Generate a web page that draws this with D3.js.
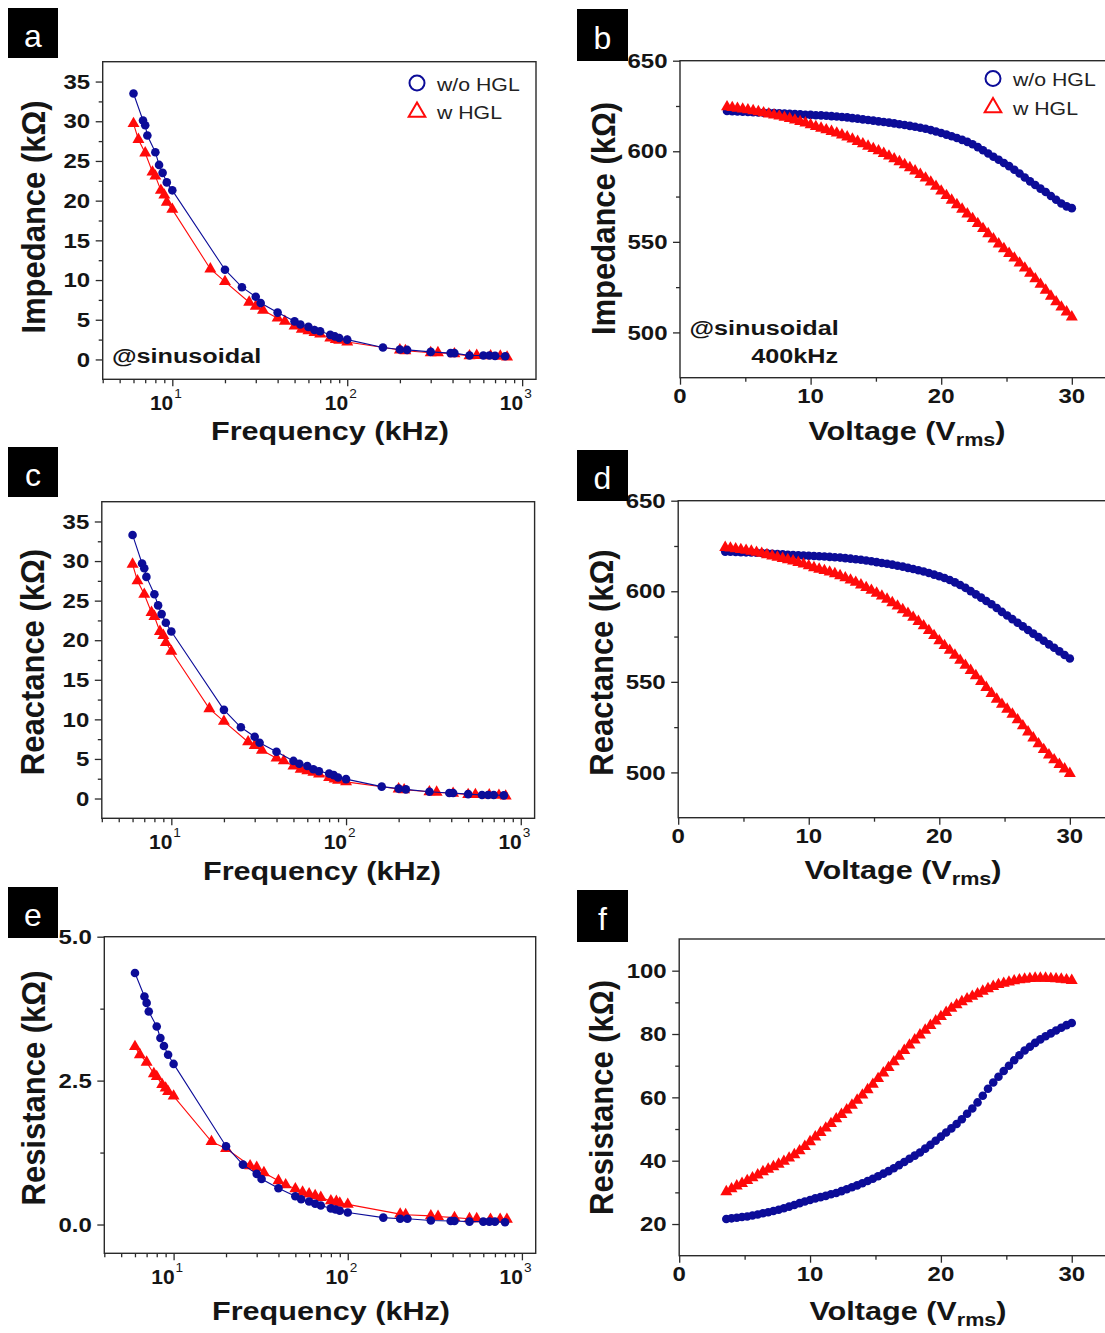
<!DOCTYPE html>
<html><head><meta charset="utf-8">
<script src="https://cdn.jsdelivr.net/npm/d3@7"></script>
<style>body{margin:0;background:#fff}svg{display:block}</style></head>
<body><svg id="c" width="1105" height="1333"></svg>
<script>
// ---------- data (frequency sweeps, panels a/c/e) ----------
const freqBlue = [6, 6.8, 7, 7.2, 8, 8.4, 8.8, 9.3, 10, 20, 25, 30, 32, 40, 50, 54, 60, 65, 70, 80, 85, 90, 100, 160, 200, 220, 300, 390, 410, 500, 600, 650, 700, 800];
const freqRed  = [6, 6.4, 7, 7.7, 8, 8.6, 9, 9.3, 10, 16.5, 20, 27.5, 30, 33, 40, 44, 50, 55, 60, 65, 70, 80, 86, 90, 100, 200, 215, 300, 330, 410, 500, 550, 660, 750, 820];
const impBlue  = [33.5, 30.1, 29.5, 28.2, 26.1, 24.5, 23.5, 22.3, 21.3, 11.3, 9.1, 7.9, 7.1, 5.9, 4.8, 4.4, 4.1, 3.7, 3.55, 3.1, 2.9, 2.7, 2.5, 1.5, 1.25, 1.2, 0.95, 0.8, 0.8, 0.5, 0.5, 0.5, 0.45, 0.4];
const impRed   = [29.7, 27.7, 26.0, 23.6, 23.1, 21.3, 20.7, 19.8, 18.9, 11.4, 9.8, 7.2, 6.7, 6.2, 5.2, 4.8, 4.2, 3.8, 3.6, 3.4, 3.2, 2.7, 2.5, 2.4, 2.2, 1.2, 1.1, 0.85, 0.85, 0.7, 0.45, 0.5, 0.45, 0.4, 0.3];
const reacBlue = [33.3, 29.7, 29.1, 28.0, 25.8, 24.4, 23.3, 22.2, 21.1, 11.2, 9.0, 7.8, 7.05, 5.9, 4.75, 4.4, 4.1, 3.7, 3.45, 3.15, 2.95, 2.65, 2.45, 1.5, 1.25, 1.15, 0.85, 0.7, 0.7, 0.55, 0.45, 0.45, 0.45, 0.4];
const reacRed  = [29.6, 27.5, 25.8, 23.5, 23.0, 21.1, 20.6, 19.7, 18.6, 11.35, 9.75, 7.15, 6.7, 6.1, 5.1, 4.75, 4.1, 3.7, 3.5, 3.3, 3.1, 2.65, 2.45, 2.3, 2.1, 1.2, 1.1, 0.85, 0.8, 0.65, 0.5, 0.5, 0.45, 0.4, 0.3];
const resBlue  = [4.37, 3.96, 3.85, 3.70, 3.44, 3.24, 3.10, 2.95, 2.79, 1.36, 1.04, 0.88, 0.79, 0.63, 0.49, 0.44, 0.40, 0.36, 0.33, 0.28, 0.26, 0.24, 0.21, 0.12, 0.10, 0.10, 0.07, 0.06, 0.06, 0.05, 0.05, 0.05, 0.05, 0.04];
const resRed   = [3.09, 2.95, 2.82, 2.62, 2.57, 2.43, 2.37, 2.31, 2.23, 1.44, 1.32, 1.02, 0.99, 0.90, 0.76, 0.69, 0.62, 0.56, 0.53, 0.50, 0.47, 0.41, 0.40, 0.37, 0.35, 0.18, 0.17, 0.15, 0.14, 0.12, 0.10, 0.10, 0.09, 0.09, 0.09];

// ---------- data (voltage sweeps @400 kHz, panels b/d/f) ----------
const voltage = [
  3.6,4.0,4.4,4.8,5.2,5.6,6.0,6.4,6.8,7.2,
  7.6,8.0,8.4,8.8,9.2,9.6,10.0,10.4,10.8,11.2,
  11.6,12.0,12.4,12.8,13.2,13.6,14.0,14.4,14.8,15.2,
  15.6,16.0,16.4,16.8,17.2,17.6,18.0,18.4,18.8,19.2,
  19.6,20.0,20.4,20.8,21.2,21.6,22.0,22.4,22.8,23.2,
  23.6,24.0,24.4,24.8,25.2,25.6,26.0,26.4,26.8,27.2,
  27.6,28.0,28.4,28.8,29.2,29.6,30.0];
const vImpBlue = [
  622.2,622.1,622.0,621.8,621.7,621.6,621.4,621.3,621.2,621.1,
  621.0,620.8,620.7,620.5,620.4,620.2,620.1,619.9,619.8,619.6,
  619.4,619.2,618.9,618.7,618.3,618.0,617.6,617.3,616.9,616.5,
  616.2,615.8,615.4,614.9,614.5,614.0,613.5,613.0,612.4,611.7,
  610.9,610.1,609.2,608.3,607.3,606.3,605.2,603.9,602.3,600.6,
  598.8,597.0,595.3,593.5,591.8,589.8,587.7,585.5,583.4,581.4,
  579.4,577.5,575.3,573.2,571.2,569.6,568.6];
const vImpRed = [
  624.5,624.1,623.7,623.3,622.9,622.4,621.8,621.2,620.6,620.0,
  619.4,618.7,618.0,617.2,616.4,615.6,614.6,613.6,612.7,611.8,
  610.9,610.0,609.0,607.9,606.7,605.4,604.1,602.8,601.5,600.2,
  598.8,597.3,595.8,594.2,592.6,590.9,589.1,587.2,585.2,583.0,
  580.6,578.0,575.5,573.0,570.5,568.0,565.4,562.8,560.1,557.3,
  554.5,551.6,548.8,546.2,543.6,541.0,538.3,535.5,532.6,529.6,
  526.5,523.3,520.0,516.9,514.0,511.3,508.5];
const vReacBlue = [
  621.9,621.8,621.7,621.6,621.5,621.4,621.3,621.1,620.9,620.7,
  620.5,620.4,620.2,620.0,619.9,619.7,619.6,619.5,619.3,619.2,
  619.0,618.8,618.6,618.3,618.0,617.7,617.4,617.0,616.6,616.1,
  615.6,615.2,614.7,614.1,613.6,612.9,612.3,611.6,610.9,610.1,
  609.2,608.3,607.3,606.2,604.9,603.5,601.9,600.1,598.3,596.5,
  594.6,592.8,590.8,588.6,586.6,584.6,582.6,580.6,578.6,576.6,
  574.7,572.7,570.7,568.8,566.8,564.8,562.9];
const vReacRed = [
  624.2,623.8,623.4,623.0,622.6,622.1,621.5,620.9,620.2,619.5,
  618.8,618.1,617.4,616.7,615.9,615.0,614.0,613.0,612.2,611.4,
  610.6,609.7,608.6,607.4,606.2,604.9,603.5,602.0,600.5,598.9,
  597.3,595.6,593.7,591.8,589.8,587.8,585.6,583.3,580.9,578.3,
  575.5,572.6,570.0,567.4,564.7,561.9,559.1,556.3,553.4,550.2,
  546.9,543.6,540.4,537.6,534.9,532.1,529.0,525.7,522.3,519.0,
  515.8,512.6,509.6,506.9,504.4,501.9,499.4];
const vResBlue = [
  21.6,21.8,22.0,22.2,22.4,22.7,23.0,23.4,23.7,24.1,
  24.5,25.0,25.5,26.0,26.6,27.1,27.6,28.1,28.5,28.9,
  29.4,29.8,30.4,31.0,31.6,32.2,32.9,33.6,34.3,35.1,
  35.9,36.7,37.6,38.6,39.6,40.6,41.6,42.6,43.8,45.0,
  46.3,47.6,48.9,50.2,51.6,53.1,54.8,56.5,58.4,60.5,
  62.7,64.7,66.5,68.3,70.0,71.7,73.3,74.8,76.0,77.2,
  78.3,79.3,80.2,81.1,82.0,82.8,83.5];
const vResRed = [
  30.2,31.1,32.0,32.8,33.7,34.6,35.5,36.5,37.3,38.1,
  38.9,39.8,40.8,41.9,43.1,44.5,46.0,47.5,48.9,50.3,
  51.7,53.2,54.6,56.0,57.5,59.1,60.7,62.4,64.1,65.9,
  67.7,69.4,71.2,73.0,74.8,76.5,78.1,79.7,81.2,82.7,
  84.1,85.5,86.8,88.1,89.2,90.2,91.1,91.9,92.7,93.5,
  94.3,95.0,95.6,96.0,96.4,96.8,97.1,97.3,97.5,97.6,
  97.6,97.6,97.5,97.4,97.3,97.1,96.9];

// ---------- tick values / labels ----------
const freqMajorTicks = [10, 100, 1000];
const freqMajorExp   = ["1", "2", "3"];
const freqMinorTicks = [4,5,6,7,8,9,20,30,40,50,60,70,80,90,200,300,400,500,600,700,800,900];
const kOhmTicks      = [0, 5, 10, 15, 20, 25, 30, 35];
const kOhmMinor      = [2.5, 7.5, 12.5, 17.5, 22.5, 27.5, 32.5];
const resTicks       = [0, 2.5, 5.0];
const resTickLabels  = ["0.0", "2.5", "5.0"];
const resMinor       = [1.25, 3.75];
const voltTicks      = [0, 10, 20, 30];
const voltMinor      = [5, 15, 25];
const hiTicks        = [500, 550, 600, 650];
const hiMinor        = [525, 575, 625];
const rTicks         = [20, 40, 60, 80, 100];
const rMinor         = [30, 50, 70, 90];
const legendLabels   = ["w/o HGL", "w HGL"];

// ---------- drawing ----------
const FONT = "Arial, 'Liberation Sans', Helvetica, sans-serif";
const BLUE = "#0c0c98", RED = "#ff0a0a", AX = "#2a2a2a", TXT = "#151515";
const K = 1.2;
const svg = d3.select("#c");
svg.append("rect").attr("width",1105).attr("height",1333).attr("fill","#fff");

function stext(g, x, y, str, o) {
  return g.append("text")
    .attr("transform", `translate(${x},${y}) scale(${o.k ?? K},1)`)
    .attr("text-anchor", o.anchor || "start")
    .attr("font-family", FONT).attr("font-size", o.size)
    .attr("font-weight", o.weight || "bold")
    .attr("fill", o.fill || TXT).text(str);
}

function panel(c) {
  const g = svg.append("g");
  const x = (c.log ? d3.scaleLog() : d3.scaleLinear()).domain(c.xd).range([c.L, c.R]);
  const y = d3.scaleLinear().domain(c.yd).range([c.B, c.T]);

  // ticks (outward) via d3 axes
  const tickStyle = s => s.call(a => a.select(".domain").remove())
    .call(a => a.selectAll("line").attr("stroke", AX).attr("stroke-width", 1.3));
  g.append("g").attr("transform", `translate(0,${c.B})`)
    .call(d3.axisBottom(x).tickValues(c.xMajor).tickSize(7).tickFormat("")).call(tickStyle);
  g.append("g").attr("transform", `translate(0,${c.B})`)
    .call(d3.axisBottom(x).tickValues(c.xMinor).tickSize(4).tickFormat("")).call(tickStyle);
  g.append("g").attr("transform", `translate(${c.L},0)`)
    .call(d3.axisLeft(y).tickValues(c.yMajor).tickSize(7).tickFormat("")).call(tickStyle);
  g.append("g").attr("transform", `translate(${c.L},0)`)
    .call(d3.axisLeft(y).tickValues(c.yMinor).tickSize(4).tickFormat("")).call(tickStyle);

  // frame
  g.append("rect").attr("x", c.L).attr("y", c.T).attr("width", c.R - c.L).attr("height", c.B - c.T)
    .attr("fill", "none").attr("stroke", AX).attr("stroke-width", 1.4);

  // y tick labels
  c.yMajor.forEach((v, i) => stext(g, c.L - 12.5, y(v) + 7.2, c.yLabels ? c.yLabels[i] : String(v), {size: 20, anchor: "end"}));
  // x tick labels
  if (c.log) {
    c.xMajor.forEach((v, i) => {
      stext(g, x(v) + 1, c.B + 30.5, "10", {size: 20, anchor: "end", k: 1.05});
      stext(g, x(v) + 2, c.B + 19, freqMajorExp[i], {size: 13, anchor: "start", weight: "normal", k: 1.05});
    });
  } else {
    c.xMajor.forEach(v => stext(g, x(v), c.B + 25.6, String(v), {size: 20, anchor: "middle"}));
  }

  // series
  const line = d3.line().x(d => x(d[0])).y(d => y(d[1]));
  c.series.forEach(s => {
    const pts = s.xs.map((xv, i) => [xv, s.ys[i]]);
    g.append("path").attr("d", line(pts)).attr("fill", "none").attr("stroke", s.color).attr("stroke-width", 1.1);
    if (s.type === "circle") {
      g.append("g").selectAll("circle").data(pts).join("circle")
        .attr("cx", d => x(d[0])).attr("cy", d => y(d[1])).attr("r", 4.3).attr("fill", s.color);
    } else {
      const tri = d3.symbol(d3.symbolTriangle, 62)();
      g.append("g").selectAll("path").data(pts).join("path")
        .attr("d", tri).attr("transform", d => `translate(${x(d[0])},${y(d[1])})`).attr("fill", s.color);
    }
  });

  // axis titles
  if (c.xTitleV) {
    const t = g.append("text")
      .attr("transform", `translate(${c.xt[0]},${c.xt[1]}) scale(${K},1)`)
      .attr("text-anchor", "middle").attr("font-family", FONT).attr("font-size", 25.5)
      .attr("font-weight", "bold").attr("fill", TXT);
    t.append("tspan").text("Voltage (V");
    t.append("tspan").attr("font-size", 18).attr("dy", 6).text("rms");
    t.append("tspan").attr("dy", -6).text(")");
  } else {
    stext(g, c.xt[0], c.xt[1], c.xTitle, {size: 25.5, anchor: "middle"});
  }
  g.append("text")
    .attr("transform", `translate(${c.yt[0]},${c.yt[1]}) rotate(-90) scale(1,1.08)`)
    .attr("text-anchor", "middle").attr("font-family", FONT).attr("font-size", 31)
    .attr("font-weight", "bold").attr("fill", TXT).text(c.yTitle);

  // panel letter
  g.append("rect").attr("x", c.box[0]).attr("y", c.box[1]).attr("width", c.box[2]).attr("height", c.box[3]).attr("fill", "#000");
  g.append("text").attr("x", c.box[0] + c.box[2] / 2).attr("y", c.box[1] + c.box[3] * 0.77)
    .attr("text-anchor", "middle").attr("font-family", FONT).attr("font-size", 32)
    .attr("fill", "#fff").text(c.letter);

  // legend
  if (c.legend) {
    const [lx, ly] = c.legend;
    g.append("circle").attr("cx", lx).attr("cy", ly).attr("r", 7.5).attr("fill", "none").attr("stroke", BLUE).attr("stroke-width", 2);
    g.append("path").attr("d", d3.symbol(d3.symbolTriangle, 120)()).attr("transform", `translate(${lx},${ly + 29})`)
      .attr("fill", "none").attr("stroke", RED).attr("stroke-width", 2);
    stext(g, lx + 20, ly + 7.5, legendLabels[0], {size: 18.5, weight: "normal", k: 1.15, fill: "#222"});
    stext(g, lx + 20, ly + 36, legendLabels[1], {size: 18.5, weight: "normal", k: 1.15, fill: "#222"});
  }
  if (c.notes) c.notes.forEach(n => stext(g, n.x, n.y, n.text, {size: 21, anchor: n.anchor || "start"}));
}

const freqSeries = (b, r) => [
  {xs: freqRed, ys: r, color: RED, type: "tri"},
  {xs: freqBlue, ys: b, color: BLUE, type: "circle"}];
const voltSeries = (b, r) => [
  {xs: voltage, ys: b, color: BLUE, type: "circle"},
  {xs: voltage, ys: r, color: RED, type: "tri"}];

const freqCommon = {log: true, xd: [4, 1200], xMajor: freqMajorTicks, xMinor: freqMinorTicks, xTitle: "Frequency (kHz)"};
const voltCommon = {log: false, xd: [0, 33], xMajor: voltTicks, xMinor: voltMinor, xTitleV: true};

panel({...freqCommon, letter: "a", box: [8, 8, 50, 50], L: 102.7, R: 536, T: 61.7, B: 379.3,
  yd: [-2.5, 37.5], yMajor: kOhmTicks, yMinor: kOhmMinor, series: freqSeries(impBlue, impRed),
  xt: [330, 440], yt: [44.5, 217], yTitle: "Impedance (kΩ)", legend: [417, 83],
  notes: [{x: 112, y: 363, text: "@sinusoidal"}]});
panel({...voltCommon, letter: "b", box: [577, 9, 51, 52], L: 680, R: 1111, T: 60.7, B: 377.7,
  yd: [475, 650], yMajor: hiTicks, yMinor: hiMinor, series: voltSeries(vImpBlue, vImpRed),
  xt: [907, 440], yt: [614.5, 218.5], yTitle: "Impedance (kΩ)", legend: [993, 78.5],
  notes: [{x: 689.5, y: 335, text: "@sinusoidal"}, {x: 838, y: 363, text: "400kHz", anchor: "end"}]});
panel({...freqCommon, letter: "c", box: [8, 447, 50, 50], L: 101.8, R: 534.6, T: 501.7, B: 818.3,
  yd: [-2.5, 37.5], yMajor: kOhmTicks, yMinor: kOhmMinor, series: freqSeries(reacBlue, reacRed),
  xt: [322, 879.5], yt: [44, 662], yTitle: "Reactance (kΩ)"});
panel({...voltCommon, letter: "d", box: [577, 450, 51, 51], L: 678.2, R: 1109, T: 500.7, B: 817.7,
  yd: [475, 650], yMajor: hiTicks, yMinor: hiMinor, series: voltSeries(vReacBlue, vReacRed),
  xt: [903, 879], yt: [612.5, 662.5], yTitle: "Reactance (kΩ)"});
panel({...freqCommon, letter: "e", box: [8, 887, 50, 51], L: 104.3, R: 535.7, T: 936.7, B: 1253.3,
  yd: [-0.5, 5.0], yMajor: resTicks, yLabels: resTickLabels, yMinor: resMinor, series: freqSeries(resBlue, resRed),
  xt: [331, 1319.5], yt: [44.5, 1088], yTitle: "Resistance (kΩ)"});
panel({...voltCommon, letter: "f", box: [577, 890, 51, 52], L: 679.2, R: 1111, T: 939, B: 1255.7,
  yd: [10, 110], yMajor: rTicks, yMinor: rMinor, series: voltSeries(vResBlue, vResRed),
  xt: [908, 1320], yt: [613, 1097.5], yTitle: "Resistance (kΩ)"});
</script>
</body></html>
